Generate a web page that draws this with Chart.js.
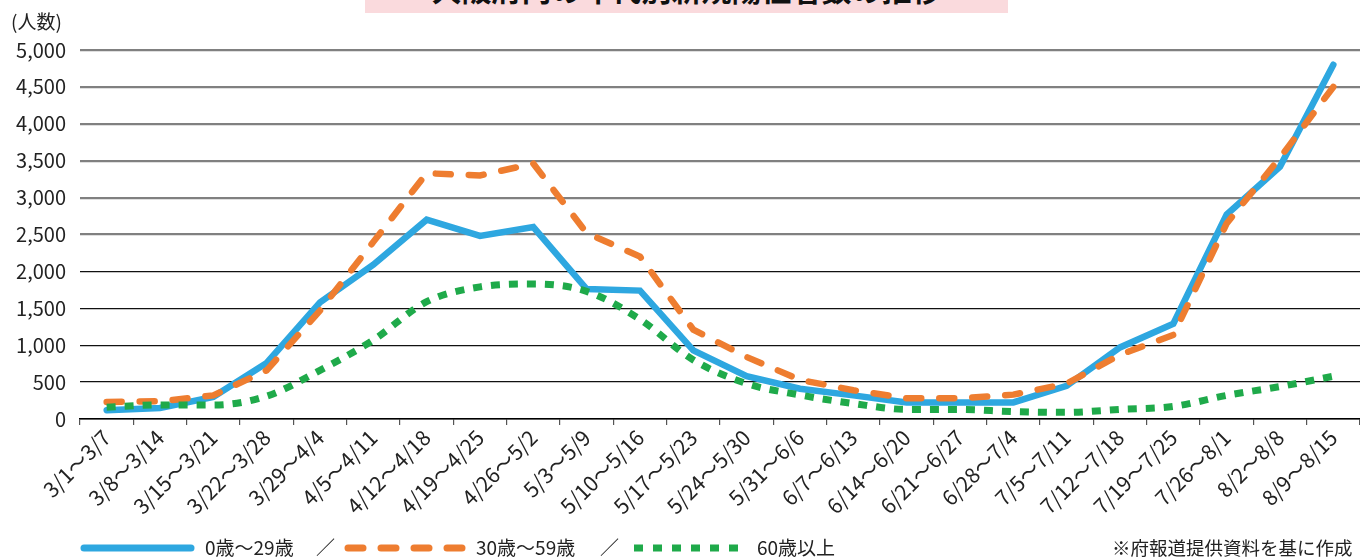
<!DOCTYPE html>
<html><head><meta charset="utf-8">
<script src="https://cdn.jsdelivr.net/npm/chart.js@4/dist/chart.umd.min.js"></script>
<style>
html,body{margin:0;padding:0;background:#fff;}
body{width:1360px;height:558px;position:relative;overflow:hidden;font-family:"Noto Sans CJK JP","Noto Sans",sans-serif;color:#222;}
#wrap{position:absolute;left:0;top:0;width:1360px;height:558px;}
#title{position:absolute;left:365px;top:0;width:643px;height:13px;background:#FADADD;overflow:hidden;}
#title span{position:absolute;left:0;right:0;top:-29px;text-align:center;font-size:30px;font-weight:bold;color:#111;line-height:34px;white-space:nowrap;}
#unit{position:absolute;left:11px;top:9px;font-size:19px;line-height:24px;}
.leg{position:absolute;top:535px;font-size:19px;line-height:24px;white-space:nowrap;}
svg.ls{position:absolute;top:540px;}
</style></head>
<body>
<div id="wrap"><canvas id="c" width="1360" height="558"></canvas></div>
<div id="title"><span>大阪府内の年代別新規陽性者数の推移</span></div>
<div id="unit">(人数)</div>
<svg class="ls" style="left:80px" width="115" height="16"><line x1="4" y1="8" x2="111" y2="8" stroke="#2EA7E0" stroke-width="7" stroke-linecap="round"/></svg>
<div class="leg" style="left:205px">0歳～29歳</div>
<div class="leg" style="left:316px">／</div>
<svg class="ls" style="left:342px" width="125" height="16"><line x1="6" y1="8" x2="122" y2="8" stroke="#EE7D30" stroke-width="7" stroke-linecap="round" stroke-dasharray="15 18"/></svg>
<div class="leg" style="left:476px">30歳～59歳</div>
<div class="leg" style="left:600px">／</div>
<svg class="ls" style="left:634px" width="115" height="16"><line x1="0" y1="8" x2="112" y2="8" stroke="#1FAA4A" stroke-width="7" stroke-dasharray="9 10"/></svg>
<div class="leg" style="left:757px">60歳以上</div>
<div class="leg" style="left:1112px;font-size:18.5px">※府報道提供資料を基に作成</div>
<script>
const categories = ["3/1～3/7","3/8～3/14","3/15～3/21","3/22～3/28","3/29～4/4","4/5～4/11","4/12～4/18","4/19～4/25","4/26～5/2","5/3～5/9","5/10～5/16","5/17～5/23","5/24～5/30","5/31～6/6","6/7～6/13","6/14～6/20","6/21～6/27","6/28～7/4","7/5～7/11","7/12～7/18","7/19～7/25","7/26～8/1","8/2～8/8","8/9～8/15"];
const age0to29 = [120,150,300,760,1580,2090,2700,2480,2600,1760,1740,930,580,410,320,225,225,225,450,970,1290,2770,3420,4800];
const age30to59 = [230,240,320,660,1470,2400,3330,3300,3460,2520,2200,1210,840,530,390,280,280,330,480,870,1140,2650,3540,4500];
const age60plus = [160,190,190,310,660,1070,1590,1790,1830,1730,1350,800,480,325,210,130,130,100,90,130,170,320,440,580];
const seriesNames = ["0歳～29歳","30歳～59歳","60歳以上"];
const yTicks = [0,500,1000,1500,2000,2500,3000,3500,4000,4500,5000];

const FONT = '"Noto Sans CJK JP","Noto Sans",sans-serif';
new Chart(document.getElementById('c'), {
  type: 'line',
  data: {
    labels: categories,
    datasets: [
      {label: seriesNames[0], data: age0to29, borderColor:'#2EA7E0', borderWidth:6.5, borderCapStyle:'round', borderJoinStyle:'miter', pointRadius:0, tension:0, order:2},
      {label: seriesNames[1], data: age30to59, borderColor:'#EE7D30', borderWidth:6.5, borderCapStyle:'round', borderDash:[15,18], pointRadius:0, tension:0, order:1},
      {label: seriesNames[2], data: age60plus, borderColor:'#1FAA4A', borderWidth:7, borderCapStyle:'butt', borderDash:[9,9], pointRadius:0, tension:0.4, cubicInterpolationMode:'monotone', order:0}
    ]
  },
  options: {
    responsive:false, animation:false,
    layout:{padding:{top:50,left:0,right:0,bottom:0}},
    plugins:{legend:{display:false}, tooltip:{enabled:false}},
    scales:{
      x:{
        offset:true,
        grid:{offset:true, drawOnChartArea:false, drawTicks:true, tickLength:6, color:'#555', lineWidth:1.2},
        border:{display:true, color:'#000', width:1.5},
        ticks:{maxRotation:45, minRotation:45, autoSkip:false, color:'#222', font:{family:FONT, size:21}, padding:0},
        afterFit:(s)=>{s.height = 139;}
      },
      y:{
        min:0, max:5000,
        afterBuildTicks:(s)=>{s.ticks = yTicks.map(v=>({value:v}));},
        grid:{drawTicks:false, color:(ctx)=> ctx.tick && ctx.tick.value>=2500 ? '#808080' : '#111', lineWidth:(ctx)=> ctx.tick && ctx.tick.value>=2500 ? 2.2 : 1.3},
        border:{display:false},
        ticks:{color:'#222', font:{family:FONT, size:20}, padding:14, callback:(v)=>v.toLocaleString('en-US')},
        afterFit:(s)=>{s.width = 80;}
      }
    }
  }
});
</script>
</body></html>
